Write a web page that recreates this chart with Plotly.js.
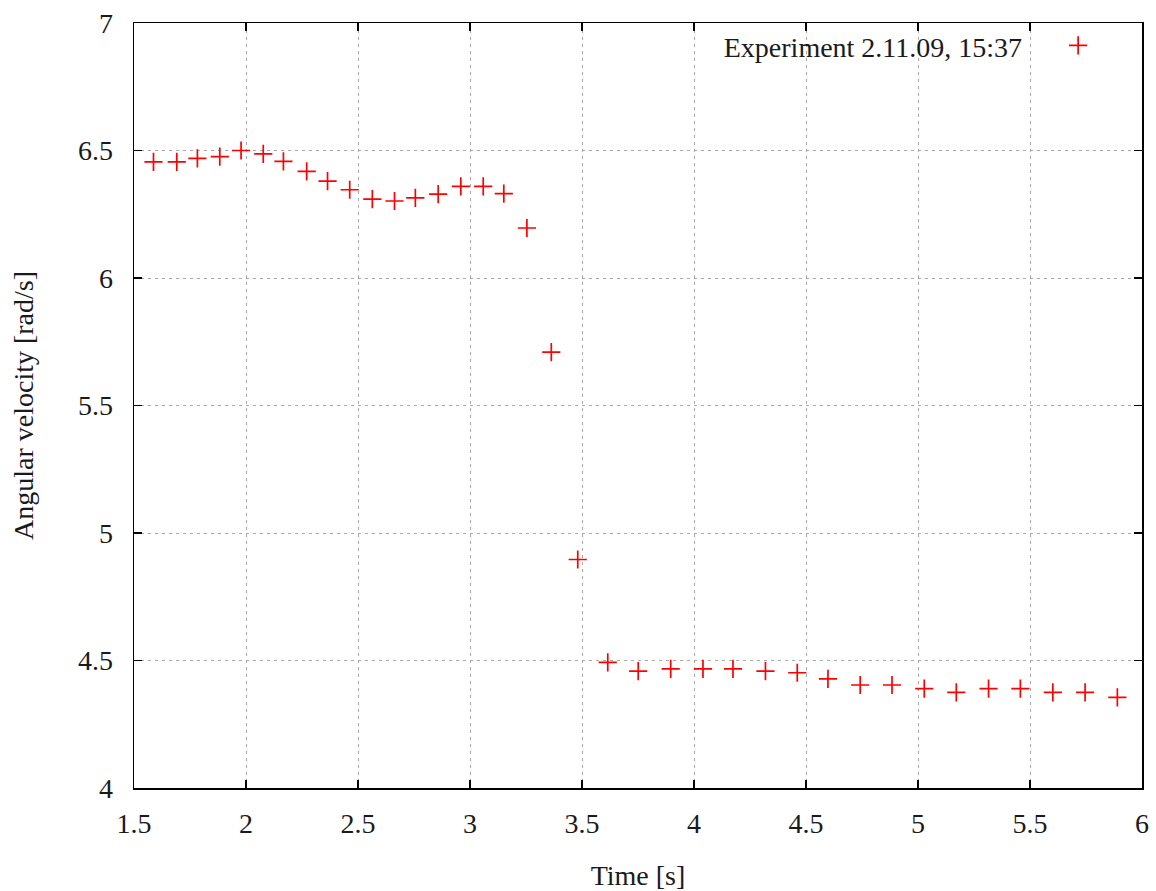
<!DOCTYPE html>
<html>
<head>
<meta charset="utf-8">
<script src="https://cdn.plot.ly/plotly-3.0.1.min.js"></script>
<style>html,body{margin:0;padding:0;background:#fff;}#chart{width:1156px;height:891px;}</style>
</head>
<body>
<div id="chart"></div>
<script>
// Time [s]
var timeValues = [1.587, 1.691, 1.783, 1.883, 1.978, 2.077, 2.167, 2.271, 2.364, 2.463, 2.564, 2.663, 2.756, 2.858, 2.959, 3.059, 3.151, 3.254,
  3.363, 3.481,
  3.615, 3.751, 3.896, 4.040, 4.174, 4.319, 4.461, 4.598, 4.742, 4.884, 5.028, 5.171, 5.315, 5.457, 5.602, 5.746, 5.890];
// Angular velocity [rad/s]
var omegaValues = [6.455, 6.455, 6.469, 6.476, 6.500, 6.487, 6.457, 6.418, 6.380, 6.346, 6.309, 6.302, 6.314, 6.329, 6.359, 6.359, 6.331, 6.196,
  5.709, 4.896,
  4.493, 4.458, 4.467, 4.467, 4.467, 4.458, 4.452, 4.428, 4.404, 4.404, 4.390, 4.375, 4.390, 4.390, 4.375, 4.375, 4.355];
var xTicks = [1.5, 2, 2.5, 3, 3.5, 4, 4.5, 5, 5.5, 6];
var xTickLabels = ['1.5', '2', '2.5', '3', '3.5', '4', '4.5', '5', '5.5', '6'];
var yTicks = [4, 4.5, 5, 5.5, 6, 6.5, 7];
var yTickLabels = ['4', '4.5', '5', '5.5', '6', '6.5', '7'];
var seriesName = 'Experiment 2.11.09, 15:37';

var fontFam = '"Liberation Serif", "DejaVu Serif", serif';
var txtColor = '#1a1a1a';

var trace = {
  x: timeValues,
  y: omegaValues,
  mode: 'markers',
  type: 'scatter',
  name: ' ',
  marker: {symbol: 'cross-thin-open', size: 13, color: '#ff0000', line: {color: '#ff0000', width: 1.7}},
  showlegend: true
};

var axisCommon = {
  showline: true, linecolor: '#000', linewidth: 1.5, mirror: 'ticks',
  ticks: 'inside', ticklen: 8, tickwidth: 1.5, tickcolor: '#000',
  showgrid: true, gridcolor: '#a8a8a8', gridwidth: 1, griddash: '3px,4px',
  zeroline: false,
  tickfont: {family: fontFam, size: 28, color: txtColor}
};

var layout = {
  width: 1156, height: 891,
  margin: {l: 134, r: 14, t: 23, b: 103},
  paper_bgcolor: '#fff', plot_bgcolor: '#fff',
  font: {family: fontFam, color: txtColor},
  xaxis: Object.assign({}, axisCommon, {
    range: [1.5, 6], tickmode: 'array', tickvals: xTicks, ticktext: xTickLabels,
    ticklabelstandoff: 10,
    title: {text: 'Time [s]', font: {family: fontFam, size: 28, color: txtColor}, standoff: 27}
  }),
  yaxis: Object.assign({}, axisCommon, {
    range: [4, 7], tickmode: 'array', tickvals: yTicks, ticktext: yTickLabels,
    ticklabelstandoff: 14,
    title: {text: 'Angular velocity [rad/s]', font: {family: fontFam, size: 28, color: txtColor}, standoff: 36}
  }),
  showlegend: true,
  legend: {
    x: 0.969, y: 1.003, xanchor: 'right', yanchor: 'top',
    bgcolor: 'rgba(0,0,0,0)', borderwidth: 0,
    font: {family: fontFam, size: 28, color: txtColor},
    title: {text: seriesName + '\u00a0\u00a0\u00a0\u00a0', side: 'left', font: {family: fontFam, size: 28, color: txtColor}},
    itemwidth: 30
  }
};

Plotly.newPlot('chart', [trace], layout, {displayModeBar: false, staticPlot: true});
</script>
</body>
</html>
